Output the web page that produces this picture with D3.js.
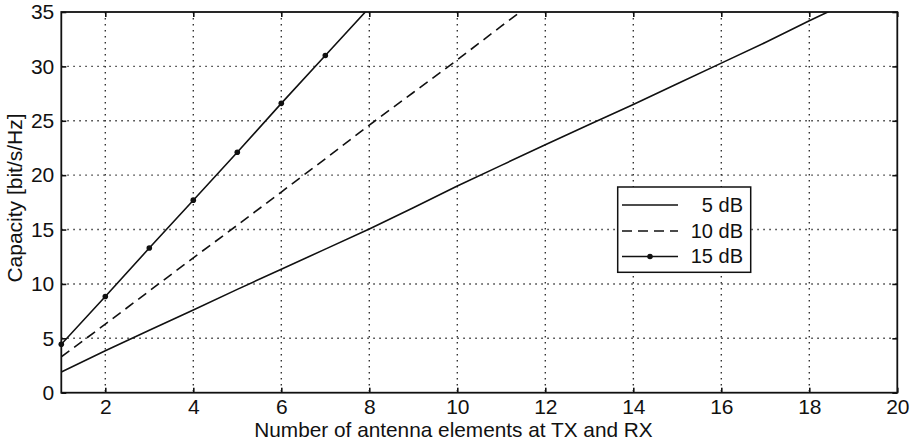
<!DOCTYPE html>
<html><head><meta charset="utf-8">
<script src="https://cdn.jsdelivr.net/npm/d3@7"></script>
<style>body{margin:0;background:#fff}svg{display:block}text{font-family:"Liberation Sans",Arial,Helvetica,sans-serif;fill:#111}</style>
</head><body><svg id="c" width="910" height="440"></svg>
<script>
const antennas = [1,2,3,4,5,6,7,8,9,10,11,12,13,14,15,16,17,18,19,20];
const cap5dB  = [1.9,3.85,5.75,7.6,9.5,11.35,13.2,15.05,17.0,19.0,20.9,22.8,24.65,26.5,28.4,30.3,32.2,34.2,36.1,38.0];
const cap10dB = [3.3,6.3,9.35,12.4,15.4,18.45,21.5,24.6,27.6,30.6,33.7,36.7];
const cap15dB = [4.45,8.85,13.3,17.7,22.1,26.6,31.0,35.4];
const xTicks = [2,4,6,8,10,12,14,16,18,20];
const yTicks = [0,5,10,15,20,25,30,35];
const seriesNames = ["5 dB","10 dB","15 dB"];
const xLabel = "Number of antenna elements at TX and RX";
const yLabel = "Capacity [bit/s/Hz]";

const svg = d3.select("#c");
const L=61.3, R=897.3, T=12, B=392.7;
const x = d3.scaleLinear().domain([1,20]).range([L,R]);
const y = d3.scaleLinear().domain([0,35]).range([B,T]);

// grid
const g = svg.append("g");
g.selectAll(".vg").data(xTicks.filter(d=>d<20)).enter().append("line")
 .attr("x1",d=>x(d)).attr("x2",d=>x(d)).attr("y1",T).attr("y2",B)
 .attr("stroke","#333").attr("stroke-width",1.4).attr("stroke-dasharray","1.5,4.5");
g.selectAll(".hg").data(yTicks.filter(d=>d>0&&d<35)).enter().append("line")
 .attr("x1",L).attr("x2",R).attr("y1",d=>y(d)).attr("y2",d=>y(d))
 .attr("stroke","#333").attr("stroke-width",1.4).attr("stroke-dasharray","1.5,4.5");

// clip
svg.append("clipPath").attr("id","clip").append("rect").attr("x",L).attr("y",T).attr("width",R-L).attr("height",B-T);

const line = d3.line().x((d,i)=>x(antennas[i])).y(d=>y(d));
const plot = svg.append("g").attr("clip-path","url(#clip)");
plot.append("path").datum(cap5dB).attr("d",line).attr("fill","none").attr("stroke","#111").attr("stroke-width",1.6);
plot.append("path").datum(cap10dB).attr("d",line).attr("fill","none").attr("stroke","#111").attr("stroke-width",1.6).attr("stroke-dasharray","10,6");
plot.append("path").datum(cap15dB).attr("d",line).attr("fill","none").attr("stroke","#111").attr("stroke-width",1.6);
svg.append("g").selectAll("circle").data(cap15dB.filter(v=>v<=35)).enter().append("circle")
 .attr("cx",(d,i)=>x(antennas[i])).attr("cy",d=>y(d)).attr("r",2.8).attr("fill","#111");

// axes with inward ticks
const ax = svg.append("g");
ax.append("g").attr("transform",`translate(0,${B})`).call(d3.axisBottom(x).tickValues(xTicks).tickSize(-5).tickPadding(6).tickFormat(d3.format("d")));
ax.append("g").attr("transform",`translate(0,${T})`).call(d3.axisTop(x).tickValues(xTicks).tickSize(-5).tickFormat(""));
ax.append("g").attr("transform",`translate(${L},0)`).call(d3.axisLeft(y).tickValues(yTicks).tickSize(-5).tickPadding(7).tickFormat(d3.format("d")));
ax.append("g").attr("transform",`translate(${R},0)`).call(d3.axisRight(y).tickValues(yTicks).tickSize(-5).tickFormat(""));
ax.selectAll(".domain").remove();
ax.selectAll(".tick line").attr("stroke","#111").attr("stroke-width",1.6);
ax.selectAll(".tick text").attr("font-size",21).attr("fill","#111").style("font-family","'Liberation Sans',Arial,sans-serif");
svg.append("rect").attr("x",L).attr("y",T).attr("width",R-L).attr("height",B-T).attr("fill","none").attr("stroke","#111").attr("stroke-width",1.8);

// labels
svg.append("text").attr("x",453.5).attr("y",436.5).attr("text-anchor","middle").attr("font-size",20.8).text(xLabel);
svg.append("text").attr("transform","translate(22,198) rotate(-90)").attr("text-anchor","middle").attr("font-size",21).text(yLabel);

// legend
const lg = svg.append("g");
lg.append("rect").attr("x",617.7).attr("y",187).attr("width",133).attr("height",85.3).attr("fill","#fff").attr("stroke","#111").attr("stroke-width",1.5);
const rowsY=[205,231,256.5];
const dashes=[null,"10,6",null];
seriesNames.forEach((n,i)=>{
  lg.append("line").attr("x1",622).attr("x2",678).attr("y1",rowsY[i]).attr("y2",rowsY[i]).attr("stroke","#111").attr("stroke-width",1.5).attr("stroke-dasharray",dashes[i]);
  lg.append("text").attr("x",743).attr("y",rowsY[i]+6.8).attr("text-anchor","end").attr("font-size",20).text(n);
});
lg.append("circle").attr("cx",650).attr("cy",rowsY[2]).attr("r",2.8).attr("fill","#111");
</script></body></html>
